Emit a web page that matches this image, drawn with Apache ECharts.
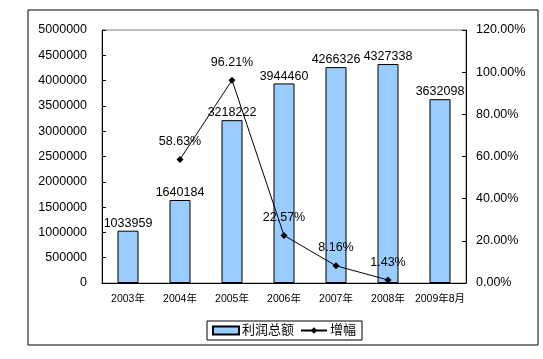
<!DOCTYPE html>
<html><head><meta charset="utf-8">
<script src="https://cdn.jsdelivr.net/npm/echarts@6/dist/echarts.min.js"></script>
<style>html,body{margin:0;padding:0;background:#fff}#c{width:543px;height:359px}</style>
</head><body><div id="c"></div>
<script>
const categories = ['2003年','2004年','2005年','2006年','2007年','2008年','2009年8月'];
const profit = [1033959,1640184,3218222,3944460,4266326,4327338,3632098];
const growth = [null,58.63,96.21,22.57,8.16,1.43,null];
const leftTicks = {min:0,max:5000000,interval:500000};
const rightTicks = {min:0,max:120,interval:20};

const FONT = '"Liberation Sans", Arial, "Noto Sans CJK SC", sans-serif';
const chart = echarts.init(document.getElementById('c'), null, {renderer:'canvas'});
chart.setOption({
  animation:false,
  textStyle:{fontFamily:FONT,color:'#000'},
  graphic:[{type:'rect',shape:{x:28,y:10,width:510,height:335},style:{fill:'none',stroke:'#000',lineWidth:1},silent:true,z:-1}],
  grid:{left:102,right:77,top:30,bottom:76,show:true,borderColor:'#808080',borderWidth:1,backgroundColor:'#fff'},
  legend:{left:207,top:321,padding:[3,6,3,5],borderColor:'#000',borderWidth:1,itemGap:6,itemWidth:26,itemHeight:8,
    textStyle:{fontFamily:FONT,fontSize:13,color:'#000',padding:[0,0,0,-2]},
    data:[{name:'利润总额',icon:'rect'},{name:'增幅'}]},
  xAxis:{type:'category',data:categories,
    axisLine:{lineStyle:{color:'#000',width:1}},
    axisTick:{inside:true,length:4,lineStyle:{color:'#000'}},
    axisLabel:{interval:0,fontFamily:FONT,fontSize:10.5,color:'#000',margin:11}},
  yAxis:[
    {type:'value',min:leftTicks.min,max:leftTicks.max,interval:leftTicks.interval,
      axisLine:{show:true,lineStyle:{color:'#000'}},
      axisTick:{show:true,inside:true,length:4,lineStyle:{color:'#000'}},
      splitLine:{show:false},
      axisLabel:{fontFamily:FONT,fontSize:12.5,color:'#000',margin:15,formatter:v=>String(v)}},
    {type:'value',position:'right',min:rightTicks.min,max:rightTicks.max,interval:rightTicks.interval,
      axisLine:{show:true,lineStyle:{color:'#000'}},
      axisTick:{show:true,inside:true,length:4,lineStyle:{color:'#000'}},
      splitLine:{show:false},
      axisLabel:{fontFamily:FONT,fontSize:12.5,color:'#000',margin:10,formatter:v=>v.toFixed(2)+'%'}}
  ],
  series:[
    {name:'利润总额',type:'bar',data:profit,barWidth:21,
      itemStyle:{color:'#99CCFF',borderColor:'#000',borderWidth:1},
      label:{show:true,position:'top',distance:1,fontFamily:FONT,fontSize:12.5,color:'#000'}},
    {name:'增幅',type:'line',yAxisIndex:1,data:growth,connectNulls:false,
      symbol:'diamond',symbolSize:7,z:5,
      lineStyle:{color:'#000',width:1},itemStyle:{color:'#000'},
      label:{show:true,position:'top',distance:8,fontFamily:FONT,fontSize:12.5,color:'#000',formatter:p=>p.value.toFixed(2)+'%'}}
  ]
});
</script></body></html>
